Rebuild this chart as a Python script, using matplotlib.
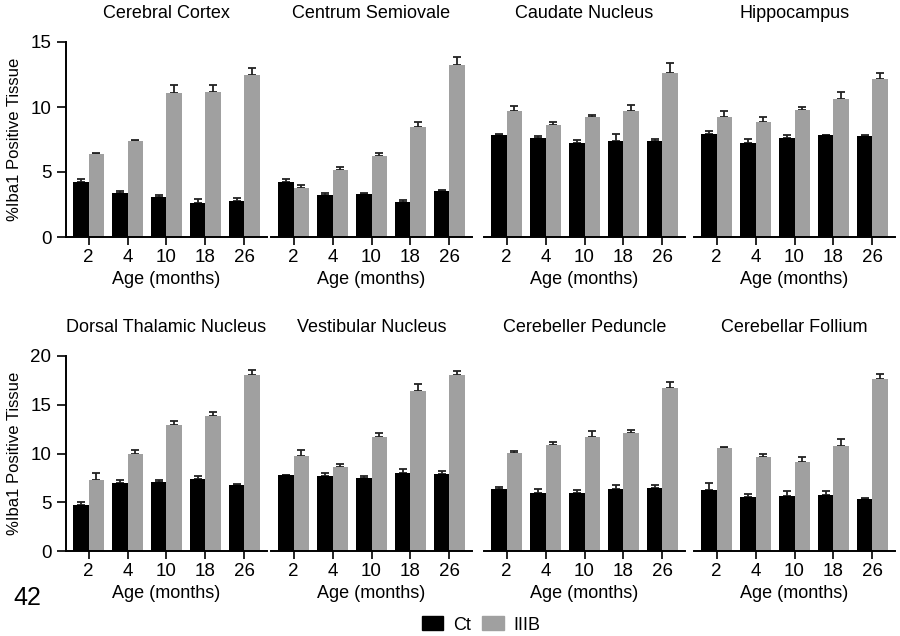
import numpy as np
import matplotlib
matplotlib.use("Agg")
import matplotlib.pyplot as plt
from matplotlib.patches import Patch

plt.rcParams['font.family'] = ['Liberation Sans', 'DejaVu Sans']

ages = ['2', '4', '10', '18', '26']
regions = ['Cerebral Cortex', 'Centrum Semiovale', 'Caudate Nucleus', 'Hippocampus',
           'Dorsal Thalamic Nucleus', 'Vestibular Nucleus', 'Cerebeller Peduncle', 'Cerebellar Follium']

# mean %Iba1 positive tissue, control
ct = [[4.25, 3.35, 3.05, 2.58, 2.76],
      [4.20, 3.25, 3.28, 2.66, 3.54],
      [7.83, 7.58, 7.24, 7.42, 7.37],
      [7.91, 7.22, 7.58, 7.81, 7.76],
      [4.71, 6.93, 7.10, 7.37, 6.79],
      [7.75, 7.65, 7.47, 8.05, 7.92],
      [6.31, 6.00, 6.00, 6.38, 6.48],
      [6.25, 5.53, 5.67, 5.77, 5.32]]
ct_err = [[0.25, 0.18, 0.15, 0.34, 0.21],
          [0.23, 0.13, 0.12, 0.18, 0.10],
          [0.10, 0.20, 0.21, 0.54, 0.18],
          [0.25, 0.33, 0.23, 0.05, 0.05],
          [0.31, 0.31, 0.20, 0.31, 0.10],
          [0.07, 0.30, 0.21, 0.31, 0.27],
          [0.21, 0.31, 0.28, 0.41, 0.28],
          [0.71, 0.31, 0.44, 0.37, 0.07]]

# MPS IIIB
iiib = [[6.42, 7.37, 11.10, 11.13, 12.50],
        [3.79, 5.12, 6.24, 8.47, 13.20],
        [9.67, 8.65, 9.24, 9.67, 12.64],
        [9.24, 8.86, 9.78, 10.65, 12.13],
        [7.27, 9.97, 12.90, 13.86, 18.02],
        [9.73, 8.60, 11.74, 16.45, 18.09],
        [10.10, 10.92, 11.67, 12.08, 16.76],
        [10.61, 9.59, 9.15, 10.75, 17.65]]
iiib_err = [[0.08, 0.10, 0.60, 0.54, 0.48],
            [0.21, 0.28, 0.26, 0.36, 0.65],
            [0.43, 0.18, 0.15, 0.46, 0.72],
            [0.49, 0.38, 0.22, 0.54, 0.51],
            [0.68, 0.37, 0.44, 0.44, 0.58],
            [0.67, 0.34, 0.41, 0.65, 0.41],
            [0.17, 0.21, 0.62, 0.38, 0.54],
            [0.07, 0.31, 0.47, 0.75, 0.47]]

W, H = 900, 636
fig = plt.figure(figsize=(9, 6.36), dpi=100)

lefts = [66, 271, 484, 694]
bottoms = [237, 551]
ymax = [15, 20]
gray = '#a0a0a0'
bw = 0.39
x = np.arange(len(ages))

for i, name in enumerate(regions):
    row, col = divmod(i, 4)
    ax = fig.add_axes([lefts[col] / W, 1 - bottoms[row] / H, 201 / W, 195 / H])
    ax.bar(x - bw / 2, ct[i], bw, color='black', zorder=2)
    ax.bar(x + bw / 2, iiib[i], bw, color=gray, zorder=2)
    ax.errorbar(x - bw / 2, ct[i], yerr=[np.zeros(5), ct_err[i]], fmt='none',
                ecolor='#222222', elinewidth=1.3, capsize=2.8, capthick=1.3, zorder=1)
    ax.errorbar(x + bw / 2, iiib[i], yerr=[np.zeros(5), iiib_err[i]], fmt='none',
                ecolor='#222222', elinewidth=1.3, capsize=2.8, capthick=1.3, zorder=1)
    ax.set_xlim(-0.58, 4.58)
    ax.set_ylim(0, ymax[row])
    ax.set_xticks(x)
    ax.set_xticklabels(ages, fontsize=13.5)
    ax.set_xlabel('Age (months)', fontsize=13, labelpad=3)
    ax.set_title(name, fontsize=13, pad=17)
    for s in ['top', 'right']:
        ax.spines[s].set_visible(False)
    ax.spines['bottom'].set_linewidth(1.4)
    ax.spines['left'].set_linewidth(1.4)
    ax.tick_params(axis='x', length=6, width=1.2, pad=3)
    if col == 0:
        ax.set_yticks(np.arange(0, ymax[row] + 1, 5))
        ax.tick_params(axis='y', length=6.5, width=1.2, labelsize=13.5, pad=4)
        ax.set_ylabel('%Iba1 Positive Tissue', fontsize=12, labelpad=6)
    else:
        ax.spines['left'].set_visible(False)
        ax.set_yticks([])

fig.text(13 / W, 1 - 605 / H, '42', fontsize=18)

handles = [Patch(color='black', label='Ct'), Patch(color=gray, label='IIIB')]
fig.legend(handles=handles, loc='center', bbox_to_anchor=(481 / W, 1 - 625 / H), ncol=2,
           frameon=False, fontsize=13, handlelength=1.2, handleheight=0.8,
           handletextpad=0.55, columnspacing=0.6)

fig.savefig('out.png', dpi=100)
